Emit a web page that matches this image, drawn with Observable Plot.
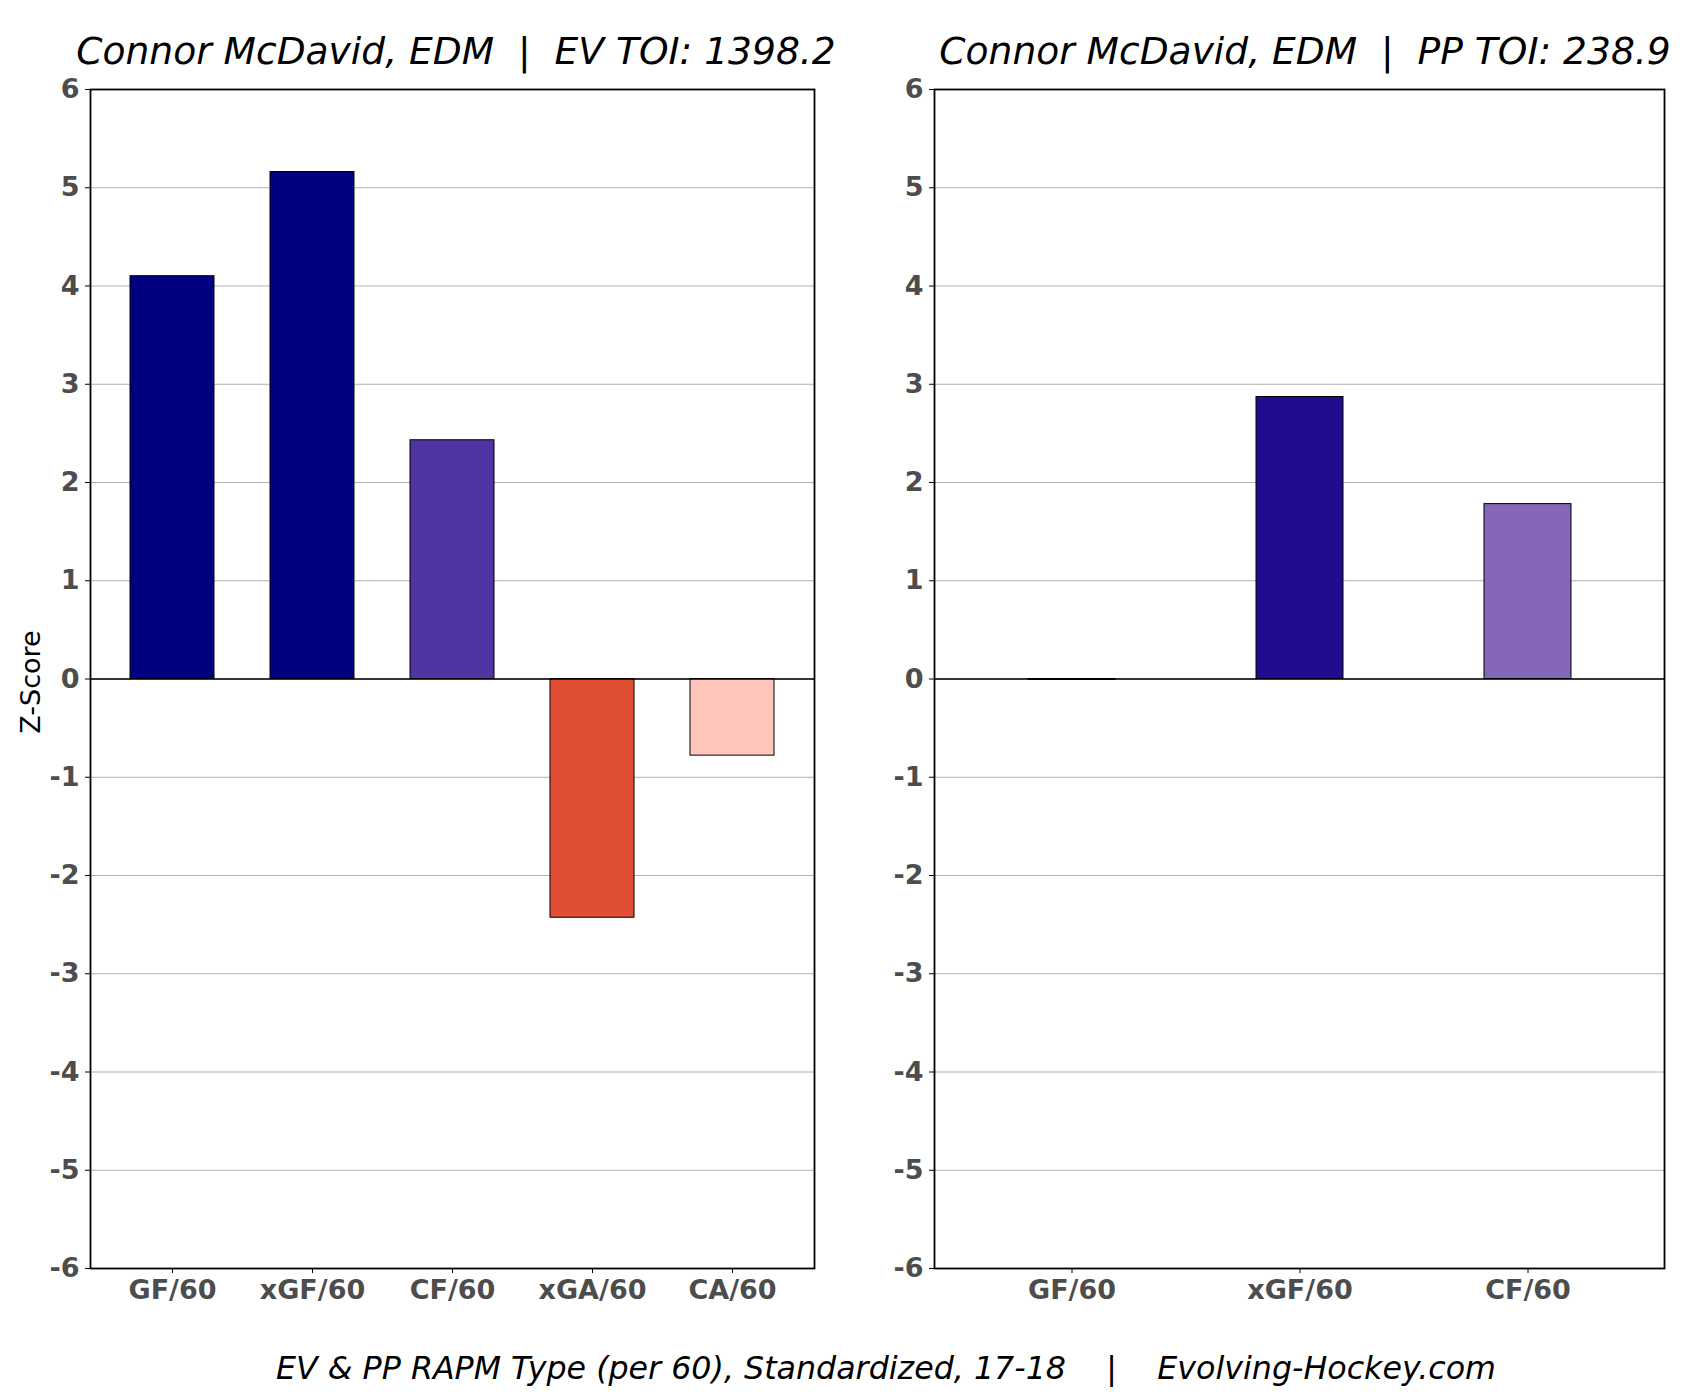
<!DOCTYPE html>
<html>
<head>
<meta charset="utf-8">
<script src="https://cdn.jsdelivr.net/npm/d3@7"></script>
<script src="https://cdn.jsdelivr.net/npm/@observablehq/plot@0.6"></script>
<style>
  html, body { margin: 0; padding: 0; background: #fff; }
  #wrap { position: relative; width: 1697px; height: 1395px; font-family: "DejaVu Sans", sans-serif; }
  .abs { position: absolute; white-space: pre; }
  .title { font-style: italic; font-size: 37.6px; color: #000; transform: translate(-50%, -50%); }
  .caption { font-style: italic; font-size: 31.7px; color: #000; transform: translate(-50%, -50%); }
  .ylab { font-size: 27px; color: #000; transform: translate(-50%, -50%) rotate(-90deg); }
  svg text { font-family: "DejaVu Sans", sans-serif; }
</style>
</head>
<body>
<div id="wrap"></div>
<script>
// ---- data ----
const evCategories = ["GF/60", "xGF/60", "CF/60", "xGA/60", "CA/60"];
const evValues = [4.10, 5.16, 2.43, -2.43, -0.78];
const evColors = ["#000080", "#000080", "#4f35a1", "#e04f33", "#fec6ba"];

const ppCategories = ["GF/60", "xGF/60", "CF/60"];
const ppValues = [-0.01, 2.87, 1.78];
const ppColors = ["#ffffff", "#1f0c8f", "#8567ba"];

const yTicks = [-6, -5, -4, -3, -2, -1, 0, 1, 2, 3, 4, 5, 6];

const evTitle = "Connor McDavid, EDM  |  EV TOI: 1398.2";
const ppTitle = "Connor McDavid, EDM  |  PP TOI: 238.9";
const captionText = "EV & PP RAPM Type (per 60), Standardized, 17-18    |    Evolving-Hockey.com";
const yLabel = "Z-Score";

const wrap = document.getElementById("wrap");

function panel(cats, vals, cols, opts) {
  const data = cats.map((c, i) => ({cat: c, v: vals[i], col: cols[i]}));
  return Plot.plot({
    width: opts.width,
    height: 1395,
    marginLeft: opts.ml,
    marginRight: opts.mr,
    marginTop: 89,
    marginBottom: 127,
    style: {background: "transparent", overflow: "visible"},
    x: {type: "band", domain: cats, paddingInner: opts.pi, paddingOuter: opts.po, label: null},
    y: {domain: [-6, 6], ticks: yTicks, label: null},
    marks: [
      Plot.gridY(yTicks, {stroke: "#b0b0b0", strokeOpacity: 1, strokeWidth: 1}),
      Plot.barY(data, {x: "cat", y: "v", fill: "col", stroke: "#000", strokeWidth: 1}),
      Plot.ruleY([0], {stroke: "#000", strokeWidth: 1.5}),
      Plot.frame({stroke: "#000", strokeWidth: 1.8}),
      Plot.axisY(yTicks, {tickSize: 5, tickPadding: 6, fontSize: 27, fontWeight: "bold", fill: "#4d4d4d", stroke: "#000", label: null, tickFormat: d => String(d)}),
      Plot.axisX(cats, {tickSize: 5, tickPadding: 6, fontSize: 27, fontWeight: "bold", fill: "#4d4d4d", stroke: "#000", label: null})
    ]
  });
}

const left = panel(evCategories, evValues, evColors, {width: 850, ml: 90, mr: 36, pi: 0.4, po: 0.27});
left.style.position = "absolute"; left.style.left = "0px"; left.style.top = "0px";
wrap.appendChild(left);

const right = panel(ppCategories, ppValues, ppColors, {width: 847, ml: 84, mr: 33, pi: 0.62, po: 0.41});
right.style.position = "absolute"; right.style.left = "850px"; right.style.top = "0px";
wrap.appendChild(right);

function addText(cls, text, x, y) {
  const d = document.createElement("div");
  d.className = "abs " + cls;
  d.textContent = text;
  d.style.left = x + "px";
  d.style.top = y + "px";
  wrap.appendChild(d);
}
addText("title", evTitle, 456, 51);
addText("title", ppTitle, 1305, 51);
addText("caption", captionText, 886, 1368);
addText("ylab", yLabel, 30, 682);
</script>
</body>
</html>
